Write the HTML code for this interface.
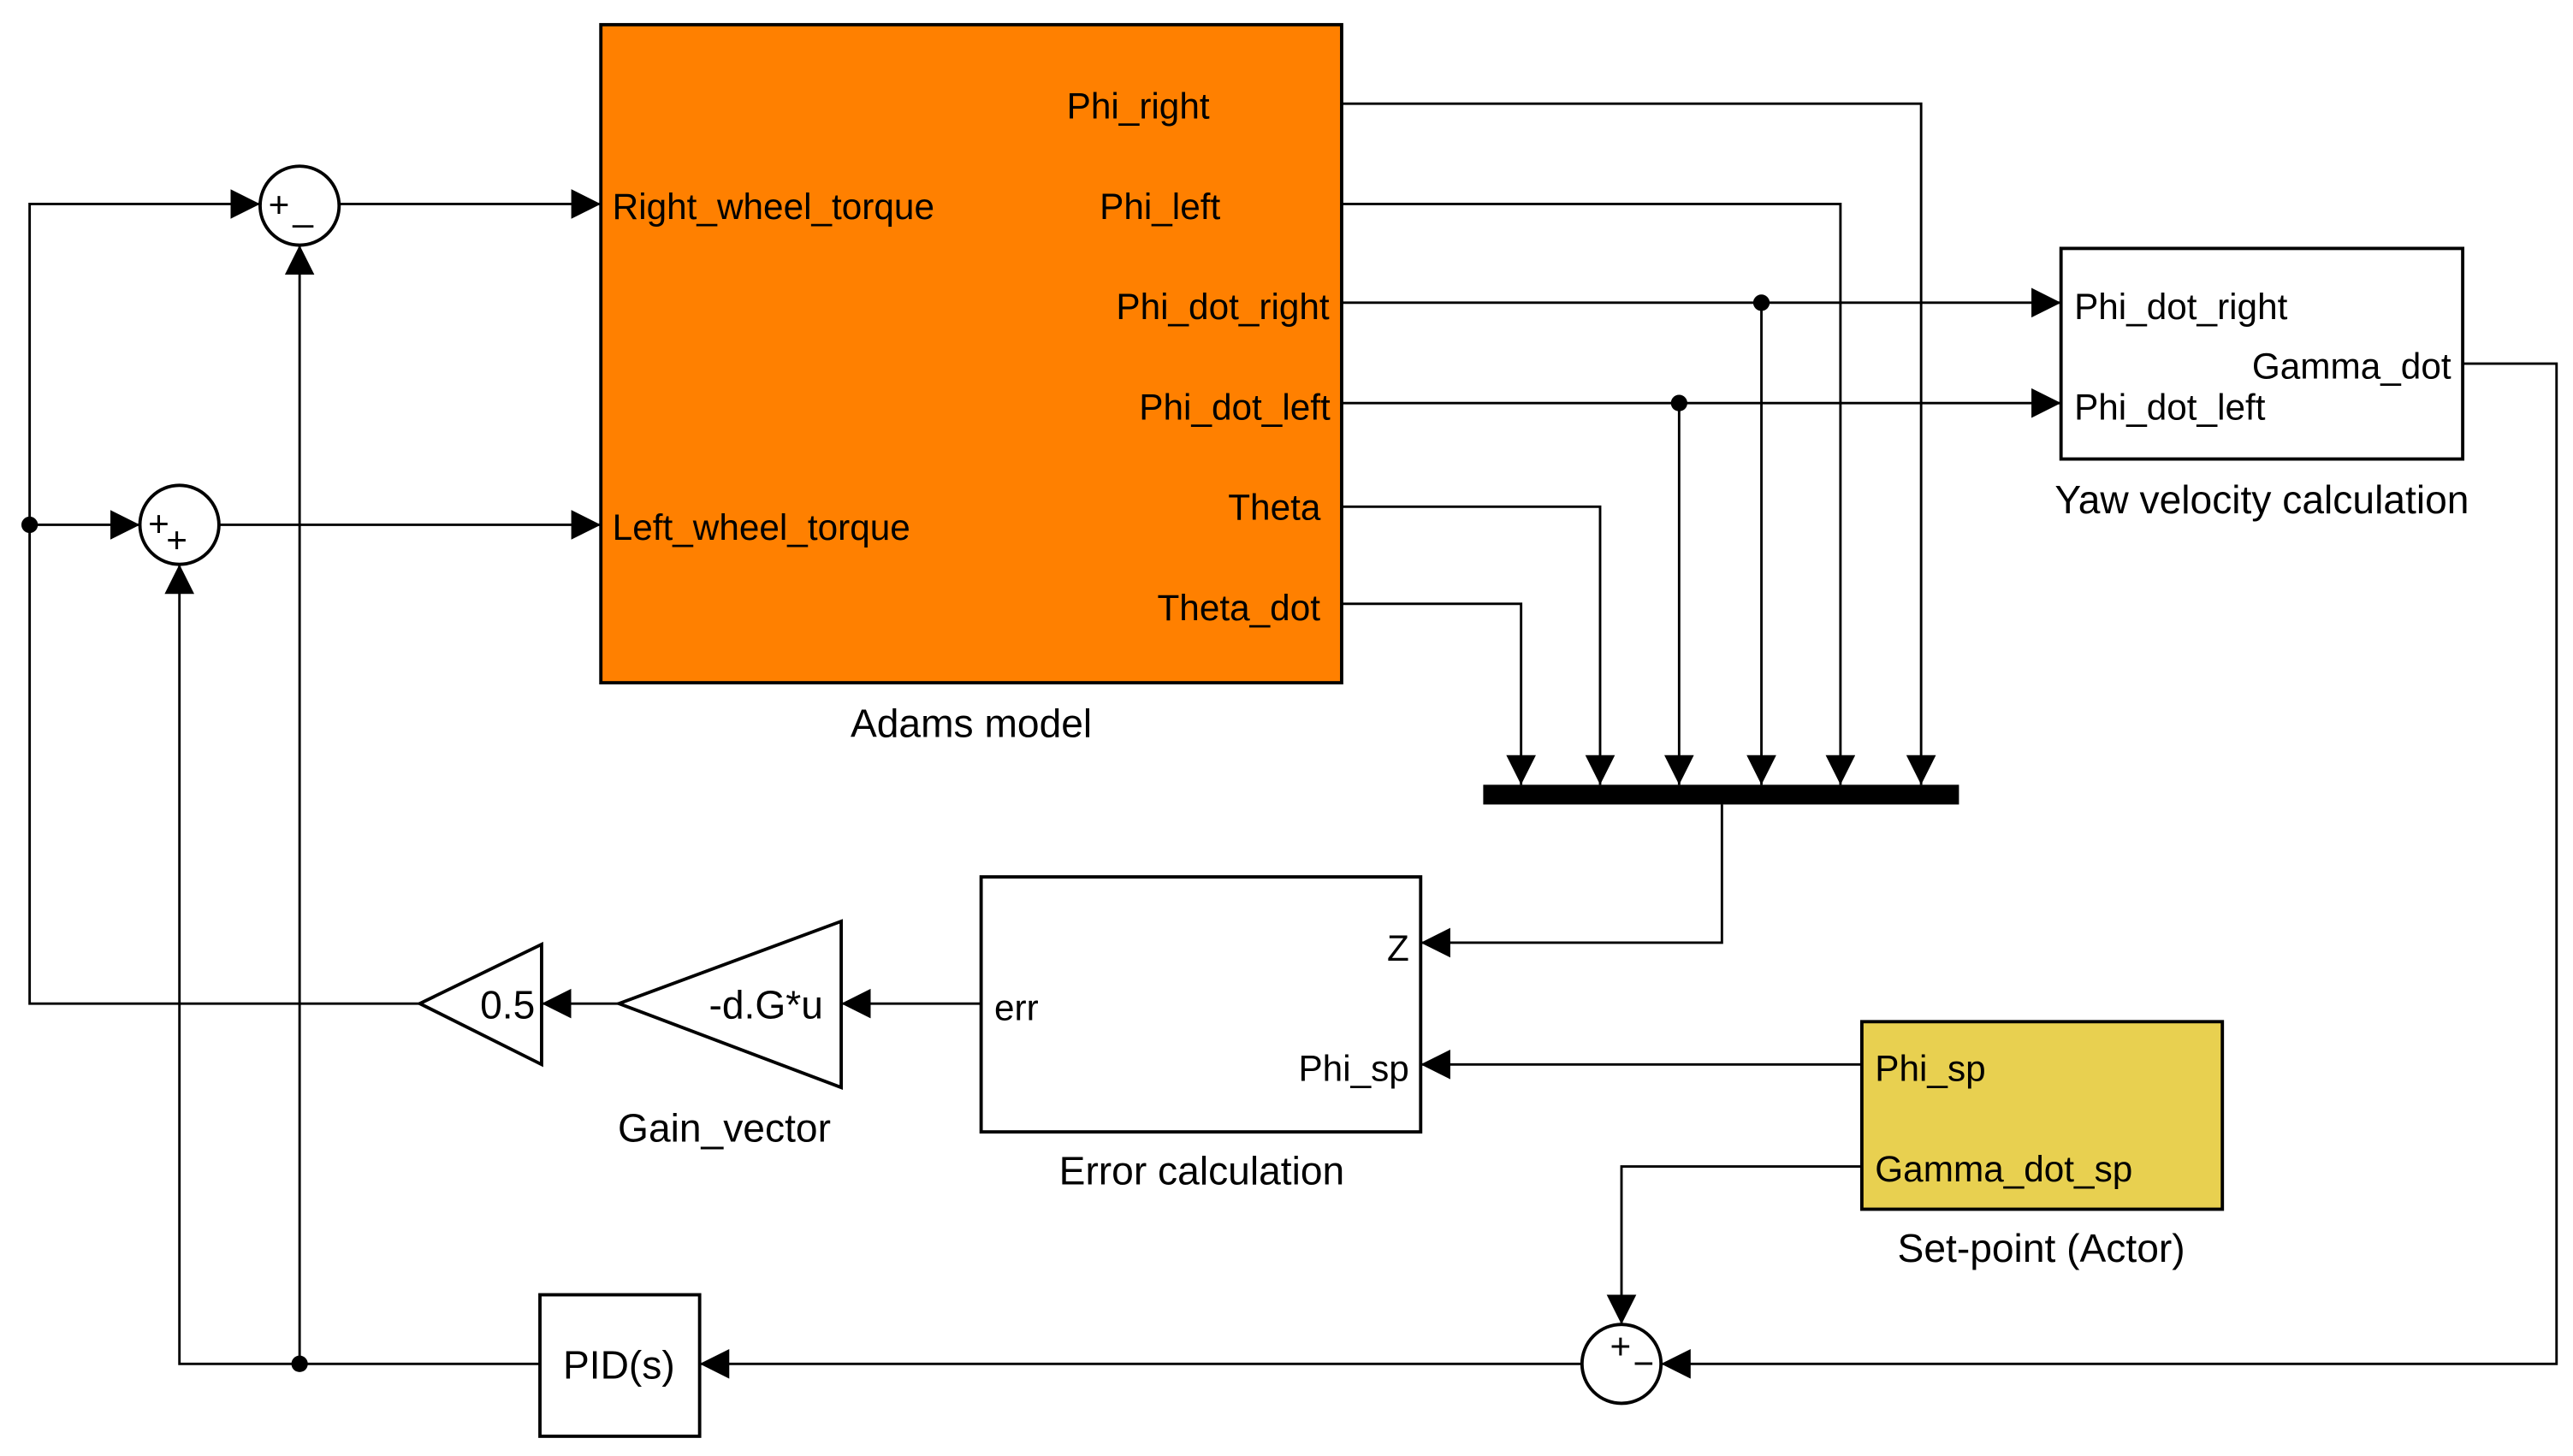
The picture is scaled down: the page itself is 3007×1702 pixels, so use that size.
<!DOCTYPE html>
<html><head><meta charset="utf-8"><style>
html,body{margin:0;padding:0;background:#fff;}
svg{display:block;}
text{font-family:"Liberation Sans",Arial,sans-serif;font-size:22px;fill:#000;}
text.cap{font-size:24px;}
</style></head><body>
<svg width="3007" height="1702" viewBox="0 0 1563 885" preserveAspectRatio="none" xmlns="http://www.w3.org/2000/svg">
<defs>
<marker id="a" markerUnits="userSpaceOnUse" markerWidth="20" markerHeight="20" refX="18" refY="9" orient="auto">
<path d="M0,0 L18,9 L0,18 Z" fill="#000"/>
</marker>
</defs>
<rect width="1563" height="885" fill="#fff"/>
<g stroke="#000" stroke-width="1.5" fill="none">
<rect x="365" y="15" width="450" height="400" fill="#FF8000" stroke-width="2"/>
<rect x="1252" y="151" width="244" height="128" fill="#fff" stroke-width="2"/>
<rect x="1131" y="621" width="219" height="114" fill="#E8D050" stroke-width="2"/>
<rect x="596" y="533" width="267" height="155" fill="#fff" stroke-width="2"/>
<rect x="328" y="787" width="97" height="86" fill="#fff" stroke-width="2"/>
<polygon points="511,560 511,661 376,610" fill="#fff" stroke-width="2"/>
<polygon points="329,574 329,647 255,610" fill="#fff" stroke-width="2"/>
<circle cx="182" cy="125" r="24" fill="#fff" stroke-width="2"/>
<circle cx="109" cy="319" r="24" fill="#fff" stroke-width="2"/>
<circle cx="985" cy="829" r="24" fill="#fff" stroke-width="2"/>

<polyline points="815,63 1167,63 1167,477" marker-end="url(#a)"/>
<polyline points="815,124 1118,124 1118,477" marker-end="url(#a)"/>
<polyline points="815,184 1252,184" marker-end="url(#a)"/>
<polyline points="1070,184 1070,477" marker-end="url(#a)"/>
<polyline points="815,245 1252,245" marker-end="url(#a)"/>
<polyline points="1020,245 1020,477" marker-end="url(#a)"/>
<polyline points="815,308 972,308 972,477" marker-end="url(#a)"/>
<polyline points="815,367 924,367 924,477" marker-end="url(#a)"/>
<polyline points="1046,489 1046,573 863,573" marker-end="url(#a)"/>
<polyline points="1496,221 1553,221 1553,829 1009,829" marker-end="url(#a)"/>
<polyline points="1131,647 863,647" marker-end="url(#a)"/>
<polyline points="1131,709 985,709 985,805" marker-end="url(#a)"/>
<polyline points="961,829 425,829" marker-end="url(#a)"/>
<polyline points="328,829 109,829 109,343" marker-end="url(#a)"/>
<polyline points="182,829 182,149" marker-end="url(#a)"/>
<polyline points="596,610 511,610" marker-end="url(#a)"/>
<polyline points="376,610 329,610" marker-end="url(#a)"/>
<polyline points="255,610 18,610 18,124 158,124" marker-end="url(#a)"/>
<polyline points="18,319 85,319" marker-end="url(#a)"/>
<polyline points="206,124 365,124" marker-end="url(#a)"/>
<polyline points="133,319 365,319" marker-end="url(#a)"/>
</g>
<rect x="901" y="477" width="289" height="12" fill="#000"/>
<g fill="#000">
<circle cx="1070" cy="184" r="5"/>
<circle cx="1020" cy="245" r="5"/>
<circle cx="18" cy="319" r="5"/>
<circle cx="182" cy="829" r="5"/>
</g>
<text x="648" y="72">Phi_right</text>
<text x="668" y="133">Phi_left</text>
<text x="678" y="194">Phi_dot_right</text>
<text x="692" y="255">Phi_dot_left</text>
<text x="746" y="316">Theta</text>
<text x="703" y="377">Theta_dot</text>
<text x="372" y="133">Right_wheel_torque</text>
<text x="372" y="328">Left_wheel_torque</text>
<text class="cap" x="590" y="448" text-anchor="middle">Adams model</text>
<text x="1260" y="194">Phi_dot_right</text>
<text x="1260" y="255">Phi_dot_left</text>
<text x="1489" y="230" text-anchor="end">Gamma_dot</text>
<text class="cap" x="1374" y="312" text-anchor="middle">Yaw velocity calculation</text>
<text x="1139" y="657">Phi_sp</text>
<text x="1139" y="718">Gamma_dot_sp</text>
<text class="cap" x="1240" y="767" text-anchor="middle">Set-point (Actor)</text>
<text x="604" y="620">err</text>
<text x="856" y="584" text-anchor="end">Z</text>
<text x="856" y="657" text-anchor="end">Phi_sp</text>
<text class="cap" x="730" y="720" text-anchor="middle">Error calculation</text>
<text class="cap" x="500" y="619" text-anchor="end">-d.G*u</text>
<text class="cap" x="440" y="694" text-anchor="middle">Gain_vector</text>
<text class="cap" x="325" y="619" text-anchor="end">0.5</text>
<text class="cap" x="376" y="838" text-anchor="middle">PID(s)</text>
<text x="163" y="132" font-size="20">+</text>
<text x="178" y="134" font-size="20">_</text>
<text x="90" y="326" font-size="20">+</text>
<text x="101" y="336" font-size="20">+</text>
<text x="978" y="826" font-size="20">+</text>
<text x="992" y="836" font-size="20">−</text>
</svg>
</body></html>
